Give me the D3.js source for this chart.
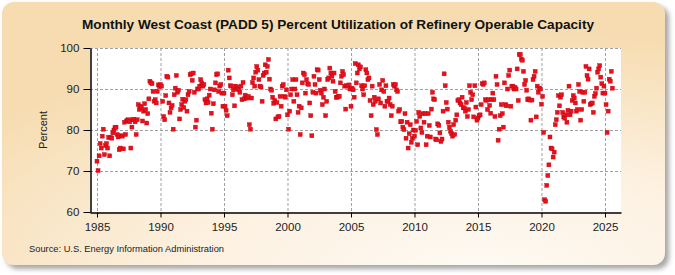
<!DOCTYPE html>
<html>
<head>
<meta charset="utf-8">
<script src="https://cdn.jsdelivr.net/npm/d3@7"></script>
<style>
  body { margin: 0; background: #ffffff; }
  text { font-family: "Liberation Sans", Arial, sans-serif; }
</style>
</head>
<body>
<div id="chart"></div>
<script>
// monthly percent utilization, one array per year (Jan..Dec)
let startYear = 1985;
let yearValues = [
  [72.4, 70.1, 73.7, 76.7, 75.6, 78.5, 80.2, 74.0, 76.2, 76.7, 75.6, 78.2], // 1985
  [73.7, 78.2, 78.0, 79.3, 80.0, 80.6, 80.7, 78.9, 78.3, 75.2, 75.6, 78.6], // 1986
  [78.5, 75.4, 81.9, 78.9, 82.2, 82.4, 82.5, 82.0, 75.6, 80.7, 82.5, 82.6], // 1987
  [82.0, 78.9, 82.5, 86.2, 85.0, 85.8, 85.4, 82.2, 84.6, 86.4, 85.0, 81.7], // 1988
  [84.0, 87.6, 91.9, 91.5, 91.3, 89.4, 87.0, 87.4, 86.6, 89.4, 91.0, 90.6], // 1989
  [91.1, 90.7, 87.0, 83.3, 82.5, 88.4, 93.1, 92.9, 86.6, 84.3, 85.4, 86.0], // 1990
  [80.2, 88.6, 90.2, 93.3, 89.2, 89.7, 82.7, 85.0, 86.2, 87.5, 85.5, 87.0], // 1991
  [87.4, 84.6, 88.6, 89.4, 93.5, 93.7, 92.1, 93.9, 89.2, 80.7, 82.4, 90.0], // 1992
  [90.0, 90.7, 92.3, 91.5, 90.7, 91.1, 87.4, 86.6, 87.6, 86.7, 88.5, 90.0], // 1993
  [84.1, 80.2, 86.4, 89.8, 91.5, 93.5, 93.7, 89.4, 90.7, 91.1, 89.0, 85.8], // 1994
  [89.0, 85.8, 84.8, 83.5, 94.6, 92.7, 90.8, 90.7, 88.6, 89.8, 85.9, 90.7], // 1995
  [90.5, 90.0, 89.8, 89.2, 90.7, 87.4, 91.6, 87.6, 88.5, 87.8, 87.8, 88.2], // 1996
  [81.3, 80.2, 87.8, 91.6, 92.7, 90.7, 94.1, 95.5, 94.6, 92.3, 90.7, 90.5], // 1997
  [87.0, 93.3, 93.9, 95.9, 94.1, 95.5, 97.2, 92.4, 90.0, 89.7, 88.0, 86.5], // 1998
  [87.2, 82.7, 86.7, 83.2, 83.3, 88.2, 85.8, 90.7, 91.1, 88.2, 88.0, 89.8], // 1999
  [83.7, 80.2, 84.6, 88.6, 90.0, 92.3, 87.0, 90.0, 92.3, 88.6, 84.3, 85.8], // 2000
  [78.9, 85.4, 91.5, 93.9, 93.5, 89.0, 92.3, 91.3, 91.1, 86.6, 83.5, 78.6], // 2001
  [89.2, 93.1, 91.1, 89.0, 94.7, 94.6, 92.3, 89.7, 89.0, 86.2, 88.0, 90.0], // 2002
  [83.5, 87.0, 92.3, 92.7, 95.1, 93.9, 93.1, 91.9, 93.9, 89.4, 88.0, 88.0], // 2003
  [88.2, 88.2, 91.5, 93.1, 94.3, 93.5, 90.7, 85.1, 90.8, 90.7, 91.0, 90.0], // 2004
  [85.8, 90.2, 89.8, 88.0, 96.2, 91.5, 93.9, 95.9, 94.9, 95.4, 90.8, 90.0], // 2005
  [88.6, 90.8, 94.7, 93.9, 92.3, 92.7, 87.2, 83.5, 90.7, 86.2, 88.0, 87.0], // 2006
  [80.1, 78.9, 87.6, 91.1, 86.6, 89.8, 92.1, 89.4, 85.8, 90.8, 87.0, 87.0], // 2007
  [87.8, 86.2, 83.5, 85.8, 91.1, 90.7, 91.1, 89.8, 89.4, 84.6, 85.0, 82.0], // 2008
  [82.1, 80.7, 80.1, 84.0, 78.0, 81.9, 75.6, 79.1, 81.3, 77.0, 78.0, 80.0], // 2009
  [78.5, 79.9, 82.1, 76.4, 84.3, 83.3, 80.5, 79.4, 84.0, 81.9, 84.0, 76.4], // 2010
  [78.5, 84.0, 81.1, 78.3, 85.1, 89.2, 87.6, 87.4, 77.8, 77.6, 81.5, 81.1], // 2011
  [79.3, 77.2, 77.8, 84.6, 93.7, 90.8, 86.7, 85.1, 81.9, 80.7, 79.7, 79.1], // 2012
  [78.5, 81.3, 78.9, 82.4, 83.7, 87.2, 87.4, 86.6, 86.2, 88.0, 85.4, 85.4], // 2013
  [84.6, 86.7, 83.3, 85.0, 90.8, 89.2, 87.4, 88.6, 83.2, 90.8, 85.6, 82.4], // 2014
  [82.9, 83.5, 83.7, 86.2, 91.3, 91.1, 91.5, 87.4, 87.2, 85.0, 87.4, 86.0], // 2015
  [84.1, 87.4, 89.0, 87.4, 83.3, 93.1, 91.1, 77.5, 80.2, 83.5, 86.2, 84.0], // 2016
  [80.7, 91.5, 86.2, 85.9, 90.0, 93.3, 94.6, 85.8, 90.7, 90.7, 90.0, 90.4], // 2017
  [90.0, 94.9, 87.2, 98.4, 98.4, 97.3, 97.0, 94.3, 91.1, 92.1, 89.7, 87.4], // 2018
  [87.6, 87.3, 82.4, 87.3, 92.3, 93.1, 94.3, 83.2, 90.7, 89.2, 90.2, 90.0], // 2019
  [86.3, 88.2, 79.4, 63.0, 62.6, 66.5, 68.9, 71.5, 78.3, 75.6, 75.4, 73.4], // 2020
  [74.6, 81.3, 82.5, 84.3, 88.4, 85.9, 88.0, 88.6, 84.3, 83.2, 82.9, 83.7], // 2021
  [81.9, 84.8, 90.7, 83.7, 84.6, 87.2, 88.4, 87.8, 86.6, 84.6, 85.0, 91.1], // 2022
  [89.4, 82.4, 85.0, 89.2, 87.0, 89.2, 95.5, 93.3, 92.4, 94.9, 86.2, 86.4], // 2023
  [86.6, 84.3, 88.2, 88.9, 90.2, 94.1, 94.9, 95.7, 92.9, 91.3, 89.0, 90.7], // 2024
  [89.0, 86.2, 79.4, 84.6, 92.4, 91.9, 94.3, 90.2]                          // 2025
];
let xTicks = [1985, 1990, 1995, 2000, 2005, 2010, 2015, 2020, 2025];
let yTicks = [60, 70, 80, 90, 100];

// flatten to month points
let data = [];
yearValues.forEach(function(vals, i) {
  vals.forEach(function(v, m) {
    data.push({ t: startYear + i + m / 12, value: v });
  });
});

let svgWidth = 675;
let svgHeight = 275;

let plot = { left: 90, right: 621, top: 48, bottom: 212 };

let svg = d3.select("#chart")
  .append("svg")
  .attr("width", svgWidth)
  .attr("height", svgHeight);

let defs = svg.append("defs");

let grad = defs.append("radialGradient")
  .attr("id", "bg")
  .attr("cx", "0.72").attr("cy", "1.05").attr("r", "0.95");
grad.append("stop").attr("offset", "0%").attr("stop-color", "#fefaf4");
grad.append("stop").attr("offset", "45%").attr("stop-color", "#fdf1e1");
grad.append("stop").attr("offset", "100%").attr("stop-color", "#f6dcb0");

let shadow = defs.append("filter")
  .attr("id", "shadow")
  .attr("x", "-5%").attr("y", "-5%").attr("width", "115%").attr("height", "120%");
shadow.append("feDropShadow")
  .attr("dx", 4).attr("dy", 4).attr("stdDeviation", 2.5)
  .attr("flood-color", "#808080").attr("flood-opacity", 0.7);

// card background
svg.append("rect")
  .attr("x", 2).attr("y", 2)
  .attr("width", 663).attr("height", 263)
  .attr("rx", 12).attr("ry", 12)
  .attr("fill", "url(#bg)")
  .attr("filter", "url(#shadow)");

// plot area
svg.append("rect")
  .attr("x", plot.left).attr("y", plot.top)
  .attr("width", plot.right - plot.left).attr("height", plot.bottom - plot.top)
  .attr("fill", "#ffffff");

// scales
let xScale = d3.scaleLinear()
  .domain([1984.45, 2026.26])
  .range([plot.left, plot.right]);

let yScale = d3.scaleLinear()
  .domain([60, 100])
  .range([plot.bottom, plot.top]);

// grid lines
svg.append("g")
  .selectAll("line")
  .data(xTicks)
  .enter()
  .append("line")
  .attr("x1", d => xScale(d) + 0.5).attr("x2", d => xScale(d) + 0.5)
  .attr("y1", plot.top).attr("y2", plot.bottom)
  .attr("stroke", "#a0a0a0")
  .attr("stroke-dasharray", "3,2");

svg.append("g")
  .selectAll("line")
  .data(yTicks.filter(d => d > 60))
  .enter()
  .append("line")
  .attr("x1", plot.left).attr("x2", plot.right)
  .attr("y1", d => yScale(d) + 0.5).attr("y2", d => yScale(d) + 0.5)
  .attr("stroke", "#a0a0a0")
  .attr("stroke-dasharray", "3,2");

// axes
let bottomAxis = d3.axisBottom(xScale)
  .tickValues(xTicks)
  .tickFormat(d3.format("d"))
  .tickSize(5)
  .tickSizeOuter(0);

let leftAxis = d3.axisLeft(yScale)
  .tickValues(yTicks)
  .tickSize(7)
  .tickSizeOuter(0);

let xAxisG = svg.append("g")
  .attr("transform", `translate(0, ${plot.bottom + 0.5})`)
  .call(bottomAxis);

let yAxisG = svg.append("g")
  .attr("transform", `translate(${plot.left + 0.5}, 0)`)
  .call(leftAxis);

[xAxisG, yAxisG].forEach(function(g) {
  g.select(".domain").attr("stroke", "#000").attr("stroke-width", 1.5);
  g.selectAll(".tick line").attr("stroke", "#000");
  g.selectAll(".tick text")
    .attr("fill", "#222")
    .attr("font-size", 11.5)
    .attr("font-family", "'Liberation Sans Narrow', 'Liberation Sans', Arial, sans-serif");
});
xAxisG.selectAll(".tick text").attr("dy", "0.95em");
yAxisG.selectAll(".tick text").attr("dx", "-0.1em");

// points
svg.append("g")
  .selectAll("rect")
  .data(data)
  .enter()
  .append("rect")
  .attr("x", d => xScale(d.t) - 2)
  .attr("y", d => yScale(d.value) - 2)
  .attr("width", 4)
  .attr("height", 4)
  .attr("fill", "#e8101a")
  .attr("stroke", "#c00010")
  .attr("stroke-width", 0.4);

// title
svg.append("text")
  .attr("x", 338)
  .attr("y", 29)
  .attr("text-anchor", "middle")
  .attr("font-size", 13)
  .attr("font-weight", "bold")
  .attr("fill", "#111")
  .attr("textLength", 512)
  .attr("lengthAdjust", "spacingAndGlyphs")
  .text("Monthly West Coast (PADD 5) Percent Utilization of Refinery Operable Capacity");

// y axis label
svg.append("text")
  .attr("transform", "translate(47, 130) rotate(-90)")
  .attr("text-anchor", "middle")
  .attr("font-size", 11)
  .attr("fill", "#222")
  .text("Percent");

// source
svg.append("text")
  .attr("x", 29)
  .attr("y", 252)
  .attr("font-size", 9.5)
  .attr("fill", "#222")
  .attr("textLength", 195)
  .attr("lengthAdjust", "spacingAndGlyphs")
  .text("Source: U.S. Energy Information Administration");
</script>
</body>
</html>
